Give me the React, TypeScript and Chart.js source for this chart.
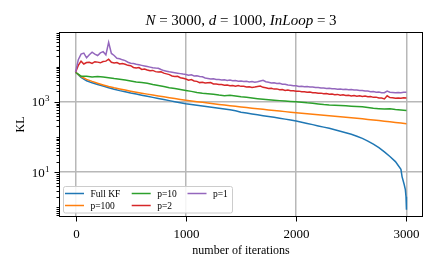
import React, { useEffect, useRef } from 'react';
import { Chart, registerables } from 'chart.js';

Chart.register(...registerables);

// ---------- data ----------
const STEP_SMOOTH = 50;
const STEP_NOISY = 25;

const FULL_KF = [7000, 5000, 4000, 3500, 3150, 2850, 2550, 2300, 2100, 1950,
  1800, 1680, 1560, 1450, 1350, 1260, 1170, 1090, 1020, 950,
  890, 850, 810, 770, 735, 700, 665, 630, 595, 560,
  510, 482, 455, 430, 407, 385, 364, 344, 324, 304,
  285, 265, 245, 226, 208, 192, 177, 162, 147, 133,
  120, 106, 92, 77, 63, 50, 38, 28, 20, 12];
const FULL_KF_TAIL_X = [2960, 2980, 2990, 2996, 3000];
const FULL_KF_TAIL_Y = [7.5, 4.4, 3.2, 2.0, 0.85];

const P100 = [7000, 5300, 4400, 3850, 3400, 3050, 2750, 2530, 2350, 2180,
  2030, 1900, 1780, 1670, 1570, 1480, 1400, 1320, 1250, 1180,
  1120, 1070, 1020, 975, 930, 890, 850, 815, 780, 750,
  720, 690, 665, 640, 615, 592, 570, 550, 530, 512,
  495, 478, 462, 447, 432, 418, 404, 391, 378, 366,
  354, 342, 330, 318, 306, 295, 283, 272, 261, 250,
  240];

const P10 = [7000, 5400, 5350, 5150, 5300, 5150, 4900, 4650, 4450, 4200,
  3950, 3700, 3550, 3420, 3150, 2950, 2750, 2550, 2420, 2260,
  2120, 2000, 1860, 1780, 1720, 1650, 1570, 1510, 1540, 1480,
  1400, 1350, 1290, 1240, 1200, 1160, 1120, 1090, 1060, 1030,
  1005, 980, 945, 920, 880, 840, 815, 800, 790, 775,
  760, 745, 725, 695, 665, 645, 630, 640, 612, 592,
  575];

const P2 = [7000, 11000, 14500, 12000, 13200, 13500, 12500, 14000, 13600, 13000,
  14200, 14500, 16500, 13500, 12800, 13200, 12000, 12400, 11800, 11000,
  10800, 9600, 9200, 9500, 8400, 8700, 8100, 7700, 7900, 7300,
  7100, 7200, 6600, 6300, 6000, 5500, 5300, 5400, 4900, 4700,
  4500, 4150, 4350, 3950, 3850, 3550, 3650, 3450, 3500, 3550,
  3250, 3250, 3150, 3150, 3000, 3050, 2900, 2950, 2800, 2950,
  2780, 2800, 2650, 2700, 2580, 2650, 2750, 2850, 2600, 2550,
  2420, 2450, 2320, 2350, 2220, 2250, 2120, 2180, 2080, 2080,
  2020, 2030, 1940, 1960, 1880, 1910, 1830, 1820, 1760, 1780,
  1700, 1730, 1660, 1670, 1600, 1640, 1560, 1590, 1520, 1550,
  1480, 1520, 1460, 1500, 1430, 1470, 1410, 1430, 1350, 1370,
  1290, 1290, 1220, 1500, 1330, 1320, 1270, 1300, 1280, 1310,
  1300];

const P1 = [7000, 16000, 23000, 24500, 18000, 22000, 26000, 23000, 21000, 25000,
  27000, 22000, 50000, 24000, 21000, 17600, 17000, 15800, 15000, 13500,
  12700, 12500, 11800, 11400, 11000, 10600, 10200, 9800, 9400, 9200,
  9100, 8400, 7800, 7500, 7200, 7000, 6800, 6600, 6400, 6200,
  6040, 5800, 5900, 5500, 5600, 5300, 5200, 4800, 4650, 4500,
  4550, 4350, 4350, 4200, 4250, 4100, 4180, 4000, 4050, 3900,
  3950, 3800, 3850, 3700, 3800, 3650, 3750, 3950, 4150, 3750,
  3650, 3450, 3500, 3350, 3380, 3200, 3180, 3020, 3000, 2880,
  2880, 2760, 2800, 2700, 2730, 2650, 2680, 2570, 2590, 2500,
  2510, 2430, 2450, 2370, 2390, 2310, 2330, 2260, 2290, 2230,
  2260, 2180, 2200, 2120, 2130, 2040, 2050, 1960, 1980, 1900,
  1910, 1830, 1830, 2050, 1900, 1860, 1820, 1850, 1840, 1880,
  1880];

const SERIES_LABELS = ['Full KF', 'p=100', 'p=10', 'p=2', 'p=1'];
const SERIES_COLORS = ['#1f77b4', '#ff7f0e', '#2ca02c', '#d62728', '#9467bd'];

const X_TICKS = [0, 1000, 2000, 3000];
const X_MIN = -150;
const X_MAX = 3150;
const Y_MIN = 0.53;
const Y_MAX = 98000;
const Y_MAJOR = [10, 1000];
const Y_MAJOR_EXP = ['1', '3'];

const TITLE_RUNS: [string, boolean][] = [
  ['N', true], [' = 3000, ', false], ['d', true], [' = 1000, ', false], ['InLoop', true], [' = 3', false],
];
const X_LABEL = 'number of iterations';
const Y_LABEL = 'KL';

// ---------- helpers ----------
const SERIF = '"Liberation Serif", "Times New Roman", serif';

function toPoints(values: number[], step: number) {
  return values.map((v, i) => ({ x: i * step, y: v }));
}

const fullKfPoints = toPoints(FULL_KF, STEP_SMOOTH).concat(
  FULL_KF_TAIL_X.map((x, i) => ({ x, y: FULL_KF_TAIL_Y[i] }))
);

const overlay = {
  id: 'overlay',
  afterDraw(chart: any) {
    const ctx: CanvasRenderingContext2D = chart.ctx;
    const { left, right, top, bottom } = chart.chartArea;
    const xs = chart.scales.x;
    const ys = chart.scales.y;
    ctx.save();
    ctx.fillStyle = '#000';
    ctx.strokeStyle = '#000';
    ctx.lineWidth = 1;

    // frame
    ctx.strokeRect(left + 0.5, top + 0.5, right - left - 1, bottom - top - 1);

    // x ticks + labels
    ctx.font = `13px ${SERIF}`;
    ctx.textAlign = 'center';
    ctx.textBaseline = 'alphabetic';
    X_TICKS.forEach((v) => {
      const px = Math.round(xs.getPixelForValue(v)) + 0.5;
      ctx.beginPath();
      ctx.moveTo(px, bottom);
      ctx.lineTo(px, bottom + 4.5);
      ctx.stroke();
      ctx.fillText(String(v), px, bottom + 21);
    });

    // y ticks (major + minor)
    for (let e = -1; e <= 5; e++) {
      for (let m = 1; m <= 9; m++) {
        const v = m * Math.pow(10, e);
        if (v < Y_MIN || v > Y_MAX) continue;
        const major = Y_MAJOR.indexOf(v) >= 0;
        const py = Math.round(ys.getPixelForValue(v)) + 0.5;
        ctx.beginPath();
        ctx.moveTo(left, py);
        ctx.lineTo(left - (major ? 4.5 : 2.5), py);
        ctx.stroke();
      }
    }
    // y labels 10^n
    Y_MAJOR.forEach((v, i) => {
      const py = ys.getPixelForValue(v);
      ctx.textAlign = 'right';
      ctx.font = `9px ${SERIF}`;
      const ew = ctx.measureText(Y_MAJOR_EXP[i]).width;
      ctx.fillText(Y_MAJOR_EXP[i], left - 9.5, py - 0.5);
      ctx.font = `13px ${SERIF}`;
      ctx.fillText('10', left - 9.5 - ew - 0.3, py + 4.5);
    });

    // axis labels
    ctx.font = `12px ${SERIF}`;
    ctx.textAlign = 'center';
    ctx.fillText(X_LABEL, (left + right) / 2, bottom + 36.5);
    ctx.save();
    ctx.translate(23.5, (top + bottom) / 2);
    ctx.rotate(-Math.PI / 2);
    ctx.fillText(Y_LABEL, 0, 0);
    ctx.restore();

    // title
    const size = 15;
    const fonts = TITLE_RUNS.map(([, it]) => `${it ? 'italic ' : ''}${size}px ${SERIF}`);
    let total = 0;
    const widths = TITLE_RUNS.map(([t], i) => {
      ctx.font = fonts[i];
      const w = ctx.measureText(t).width;
      total += w;
      return w;
    });
    let tx = (left + right) / 2 - total / 2;
    ctx.textAlign = 'left';
    TITLE_RUNS.forEach(([t], i) => {
      ctx.font = fonts[i];
      ctx.fillText(t, tx, 25);
      tx += widths[i];
    });

    // legend (column-major, 2 rows)
    const lx = 63.5, ly = 186.5, lw = 169, lh = 26.5;
    ctx.fillStyle = 'rgba(255,255,255,0.85)';
    ctx.strokeStyle = '#cccccc';
    ctx.beginPath();
    (ctx as any).roundRect(lx, ly, lw, lh, 2);
    ctx.fill();
    ctx.stroke();
    const colX = [65, 131.7, 187.5];
    const rowY = [193.5, 205.5];
    ctx.font = `9.5px ${SERIF}`;
    ctx.textBaseline = 'middle';
    chart.data.datasets.forEach((ds: any, i: number) => {
      const c = Math.floor(i / 2), r = i % 2;
      const x0 = colX[c], y0 = rowY[r];
      ctx.strokeStyle = ds.borderColor;
      ctx.lineWidth = 1.5;
      ctx.beginPath();
      ctx.moveTo(x0, y0);
      ctx.lineTo(x0 + 19, y0);
      ctx.stroke();
      ctx.fillStyle = '#000';
      ctx.fillText(ds.label, x0 + 25.5, y0 + 0.5);
    });
    ctx.restore();
  },
};

export default function App() {
  const ref = useRef<HTMLCanvasElement>(null);
  useEffect(() => {
    const seriesData = [
      fullKfPoints,
      toPoints(P100, STEP_SMOOTH),
      toPoints(P10, STEP_SMOOTH),
      toPoints(P2, STEP_NOISY),
      toPoints(P1, STEP_NOISY),
    ];
    const chart = new Chart(ref.current as HTMLCanvasElement, {
      type: 'line',
      data: {
        datasets: seriesData.map((d, i) => ({
          label: SERIES_LABELS[i],
          data: d,
          borderColor: SERIES_COLORS[i],
          backgroundColor: SERIES_COLORS[i],
          borderWidth: 1.5,
          pointRadius: 0,
          tension: 0,
          fill: false,
          order: SERIES_LABELS.length - i,
        })),
      },
      options: {
        responsive: false,
        devicePixelRatio: 1,
        animation: false,
        events: [],
        layout: { padding: { top: 32, right: 16, left: 0, bottom: 0 } },
        plugins: { legend: { display: false }, title: { display: false }, tooltip: { enabled: false } },
        scales: {
          x: {
            type: 'linear',
            min: X_MIN,
            max: X_MAX,
            border: { display: false },
            grid: { color: '#b8b8b8', lineWidth: 1.5, drawTicks: false },
            ticks: { display: false },
            afterBuildTicks: (s: any) => { s.ticks = X_TICKS.map((v) => ({ value: v })); },
            afterFit: (s: any) => { s.height = 54; },
          },
          y: {
            type: 'logarithmic',
            min: Y_MIN,
            max: Y_MAX,
            border: { display: false },
            grid: { color: '#b8b8b8', lineWidth: 1.5, drawTicks: false },
            ticks: { display: false },
            afterBuildTicks: (s: any) => { s.ticks = Y_MAJOR.map((v) => ({ value: v })); },
            afterFit: (s: any) => { s.width = 59; },
          },
        },
      } as any,
      plugins: [overlay],
    });
    return () => chart.destroy();
  }, []);
  return (
    <div style={{ position: 'fixed', left: 0, top: 0, width: 439, height: 271, background: '#fff' }}>
      <canvas ref={ref} width={439} height={271} style={{ display: 'block', width: 439, height: 271 }} />
    </div>
  );
}
